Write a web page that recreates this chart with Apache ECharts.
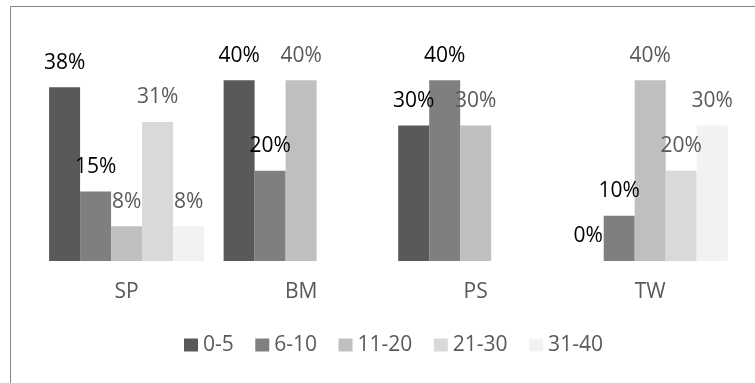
<!DOCTYPE html>
<html>
<head>
<meta charset="utf-8">
<script src="https://cdn.jsdelivr.net/npm/echarts@6/dist/echarts.min.js"></script>
<style>
html,body{margin:0;padding:0;background:#fff;}
#c{width:755px;height:383px;}
</style>
</head>
<body>
<div id="c"></div>
<script>
var categories = ['SP', 'BM', 'PS', 'TW'];
var seriesNames = ['0-5', '6-10', '11-20', '21-30', '31-40'];
var s0_5   = [38.46, 40, 30, 0];
var s6_10  = [15.38, 20, 40, 10];
var s11_20 = [7.69, 40, 30, 40];
var s21_30 = [30.77, null, null, 20];
var s31_40 = [7.69, null, null, 30];
var yTicks = [0, 40];

var seriesData = [s0_5, s6_10, s11_20, s21_30, s31_40];
var colors = ['#595959', '#7f7f7f', '#bfbfbf', '#d9d9d9', '#f2f2f2'];
var labelColors = ['#000000', '#000000', '#595959', '#595959', '#595959'];
var FONT = '"Open Sans", "Liberation Sans", sans-serif';

var chart = echarts.init(document.getElementById('c'), null, {renderer: 'canvas'});
chart.setOption({
  animation: false,
  backgroundColor: '#ffffff',
  textStyle: {fontFamily: FONT},
  grid: {left: 39.3, right: 17.5, top: 80.3, bottom: 122, containLabel: false},
  xAxis: {
    type: 'category',
    data: categories,
    axisLine: {show: false},
    axisTick: {show: false},
    axisLabel: {color: '#595959', fontSize: 21, fontFamily: FONT, margin: 21, lineHeight: 21}
  },
  yAxis: {
    type: 'value',
    min: yTicks[0],
    max: yTicks[1],
    show: false,
    splitLine: {show: false}
  },
  legend: {
    data: seriesNames,
    left: 184,
    top: 334.5,
    padding: 0,
    itemWidth: 14,
    itemHeight: 13,
    itemGap: 21.5,
    icon: 'rect',
    textStyle: {color: '#595959', fontSize: 21, fontFamily: FONT, lineHeight: 21}
  },
  graphic: [{
    type: 'rect',
    shape: {x: 10.5, y: 6.5, width: 800, height: 420},
    style: {fill: 'none', stroke: '#868686', lineWidth: 1},
    silent: true,
    z: -1
  }],
  series: seriesNames.map(function (name, i) {
    return {
      name: name,
      type: 'bar',
      data: seriesData[i],
      barGap: '0%',
      barCategoryGap: '11.2%',
      itemStyle: {color: colors[i]},
      label: {
        show: true,
        position: 'top',
        distance: 14,
        color: labelColors[i],
        fontSize: 21,
        fontFamily: FONT,
        lineHeight: 21,
        formatter: function (p) {
          if (p.value === null || p.value === undefined) return '';
          return Math.round(p.value) + '%';
        }
      }
    };
  })
});
</script>
</body>
</html>
